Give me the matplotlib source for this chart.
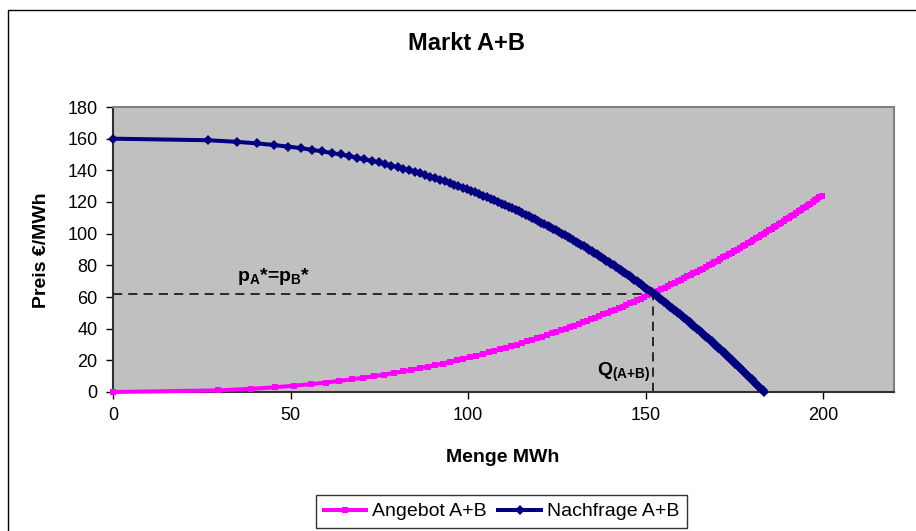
import numpy as np
import matplotlib
matplotlib.use("Agg")
import matplotlib.pyplot as plt
from matplotlib.patches import Rectangle

plt.rcParams["font.family"] = ["Liberation Sans", "DejaVu Sans"]
plt.rcParams["mathtext.fontset"] = "custom"
plt.rcParams["mathtext.rm"] = "Liberation Sans"
plt.rcParams["mathtext.bf"] = "Liberation Sans:bold"
plt.rcParams["mathtext.it"] = "Liberation Sans:italic"

# Supply (Angebot A+B): price in steps of 1 €/MWh, quantity in MWh
supply_price = list(range(0, 125))
supply_qty = [
    0.0, 29.5, 38.8, 45.6, 51.1, 55.9, 60.1, 63.8, 67.3, 70.5,
    73.5, 76.4, 79.1, 81.6, 84.0, 86.4, 88.6, 90.8, 92.9, 94.9,
    96.8, 98.7, 100.5, 102.3, 104.1, 105.8, 107.4, 109.1, 110.6, 112.2,
    113.7, 115.2, 116.7, 118.1, 119.5, 120.9, 122.2, 123.6, 124.9, 126.2,
    127.5, 128.7, 129.9, 131.2, 132.4, 133.6, 134.7, 135.9, 137.0, 138.1,
    139.3, 140.3, 141.4, 142.5, 143.6, 144.6, 145.7, 146.7, 147.7, 148.7,
    149.7, 150.7, 151.7, 152.6, 153.6, 154.5, 155.5, 156.4, 157.3, 158.2,
    159.1, 160.0, 160.9, 161.8, 162.7, 163.5, 164.4, 165.3, 166.1, 167.0,
    167.8, 168.6, 169.4, 170.3, 171.1, 171.9, 172.7, 173.5, 174.3, 175.0,
    175.8, 176.6, 177.4, 178.1, 178.9, 179.6, 180.4, 181.1, 181.9, 182.6,
    183.3, 184.0, 184.8, 185.5, 186.2, 186.9, 187.6, 188.3, 189.0, 189.7,
    190.4, 191.1, 191.7, 192.4, 193.1, 193.8, 194.4, 195.1, 195.8, 196.4,
    197.1, 197.7, 198.4, 199.0, 199.7,
]

# Demand (Nachfrage A+B): price from 160 down to 0 €/MWh, quantity in MWh
demand_price = list(range(160, -1, -1))
demand_qty = [
    0.0, 26.8, 34.9, 40.6, 45.3, 49.3, 52.9, 56.0, 58.9, 61.6,
    64.1, 66.5, 68.7, 70.8, 72.9, 74.8, 76.6, 78.4, 80.2, 81.8,
    83.4, 85.0, 86.5, 88.0, 89.4, 90.8, 92.1, 93.5, 94.8, 96.0,
    97.3, 98.5, 99.7, 100.8, 102.0, 103.1, 104.2, 105.3, 106.4, 107.4,
    108.5, 109.5, 110.5, 111.5, 112.5, 113.4, 114.4, 115.3, 116.2, 117.1,
    118.0, 118.9, 119.8, 120.7, 121.5, 122.4, 123.2, 124.0, 124.9, 125.7,
    126.5, 127.3, 128.1, 128.8, 129.6, 130.4, 131.1, 131.9, 132.6, 133.4,
    134.1, 134.8, 135.5, 136.2, 137.0, 137.6, 138.3, 139.0, 139.7, 140.4,
    141.1, 141.7, 142.4, 143.0, 143.7, 144.3, 145.0, 145.6, 146.2, 146.9,
    147.5, 148.1, 148.7, 149.3, 149.9, 150.5, 151.2, 151.7, 152.3, 152.9,
    153.5, 154.1, 154.7, 155.2, 155.8, 156.4, 156.9, 157.5, 158.0, 158.6,
    159.2, 159.7, 160.2, 160.8, 161.3, 161.9, 162.4, 162.9, 163.4, 164.0,
    164.5, 165.0, 165.5, 166.0, 166.5, 167.1, 167.6, 168.1, 168.6, 169.1,
    169.6, 170.1, 170.5, 171.0, 171.5, 172.0, 172.5, 173.0, 173.4, 173.9,
    174.4, 174.9, 175.3, 175.8, 176.3, 176.7, 177.2, 177.6, 178.1, 178.6,
    179.0, 179.5, 179.9, 180.3, 180.8, 181.2, 181.7, 182.1, 182.6, 183.0,
    183.4,
]

# Market equilibrium
eq_qty = 152
eq_price = 62

x_ticks = [0, 50, 100, 150, 200]
y_ticks = [0, 20, 40, 60, 80, 100, 120, 140, 160, 180]

W, H = 916, 531
fig = plt.figure(figsize=(W / 100, H / 100), dpi=100)
fig.patch.set_facecolor("white")

# outer chart frame
fig.patches.append(Rectangle((8 / W, -0.2), 1.5, 1.2 - 10 / H, transform=fig.transFigure,
                             fill=False, edgecolor="black", linewidth=1.0, clip_on=False))

ax = fig.add_axes([113 / W, 1 - 392 / H, (894 - 113) / W, (392 - 107) / H])
ax.set_facecolor("#C0C0C0")
ax.set_xlim(0, 220)
ax.set_ylim(0, 180)
ax.set_xticks(x_ticks)
ax.set_yticks(y_ticks)
ax.tick_params(axis="both", direction="out", length=5, width=1, labelsize=13, colors="black", pad=6)
for side in ("top", "right"):
    ax.spines[side].set_color("#808080")
    ax.spines[side].set_linewidth(1.5)
for side in ("left", "bottom"):
    ax.spines[side].set_color("#303030")
    ax.spines[side].set_linewidth(1.5)

# equilibrium guide lines
ax.plot([0, eq_qty], [eq_price, eq_price], color="black", lw=1.1, ls=(0, (6, 4)), zorder=2)
ax.plot([eq_qty, eq_qty], [0, eq_price], color="black", lw=1.1, ls=(0, (6, 4)), zorder=2)

ax.plot(supply_qty, supply_price, color="#FF00FF", lw=2.9, marker="s", markersize=4.6,
        markeredgewidth=0, label="Angebot A+B", zorder=3, clip_on=False)
ax.plot(demand_qty, demand_price, color="#000080", lw=2.9, marker="D", markersize=5.2,
        markeredgewidth=0, label="Nachfrage A+B", zorder=4, clip_on=False)

ax.text(35, 73, r"p$_\mathbf{A}$*=p$_\mathbf{B}$*", fontsize=14, fontweight="bold",
        ha="left", va="center")
ax.text(151.5, 12.5, r"Q$_\mathbf{(A{+}B)}$", fontsize=14, fontweight="bold",
        ha="right", va="center")

fig.text(466 / W, 1 - 44 / H, "Markt A+B", fontsize=17, fontweight="bold", ha="center", va="center")
fig.text(42 / W, 1 - 250 / H, "Preis €/MWh", fontsize=14, fontweight="bold", rotation=90,
         ha="center", va="center")
fig.text(503 / W, 1 - 457 / H, "Menge MWh", fontsize=14, fontweight="bold", ha="center", va="center")

leg = fig.legend(loc="upper center", bbox_to_anchor=(501.5 / W, 1 - 495 / H), ncol=2,
                 fontsize=14, frameon=True, fancybox=False, handlelength=2.2,
                 handletextpad=0.3, columnspacing=0.6, borderpad=0.4, borderaxespad=0)
leg.get_frame().set_edgecolor("black")
leg.get_frame().set_linewidth(1.0)

fig.savefig("out.png", dpi=100)
